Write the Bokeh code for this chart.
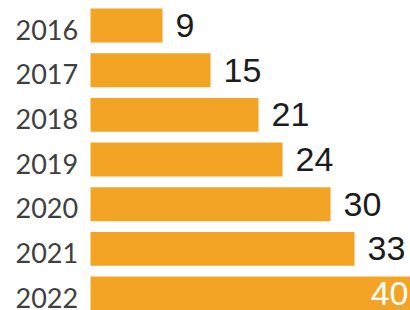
from bokeh.plotting import figure
from bokeh.models import ColumnDataSource, Range1d
from bokeh.core.properties import value
from bokeh.embed import file_html
from bokeh.resources import INLINE

years = ["2016", "2017", "2018", "2019", "2020", "2021", "2022"]
counts = [9, 15, 21, 24, 30, 33, 40]

n = len(years)
idx = list(range(n))
vmax = max(counts)
inside = [c == vmax for c in counts]

src = ColumnDataSource(dict(
    y=idx,
    year=years,
    v=counts,
    lbl=[str(c) for c in counts],
    lcol=["white" if f else "#1c1c1c" for f in inside],
    lalign=["right" if f else "left" for f in inside],
    loff=[-2 if f else 13 for f in inside],
    zero=[0] * n,
))

p = figure(width=410, height=310, output_backend="svg", toolbar_location=None,
           x_range=Range1d(-11.25, 40), y_range=Range1d(n - 1 + 0.38, -0.56),
           min_border=0, min_border_left=0, min_border_right=0,
           min_border_top=0, min_border_bottom=0)
p.axis.visible = False
p.grid.visible = False
p.outline_line_color = None
p.background_fill_color = "white"
p.border_fill_color = "white"

p.hbar(y="y", left=0, right="v", height=0.76, source=src,
       fill_color="#F4A424", line_color=None)

p.text(x="zero", y="y", text="year", source=src, x_offset=-75, y_offset=4,
       text_align="left", text_baseline="middle", text_font=value("Lato"),
       text_font_size="27px", text_color="#404040")

p.text(x="v", y="y", text="lbl", source=src, x_offset="loff", y_offset=0,
       text_align="lalign", text_baseline="middle",
       text_font=value("Liberation Sans"), text_font_size="34px",
       text_color="lcol")

open("out.html", "w").write(file_html(p, INLINE))
